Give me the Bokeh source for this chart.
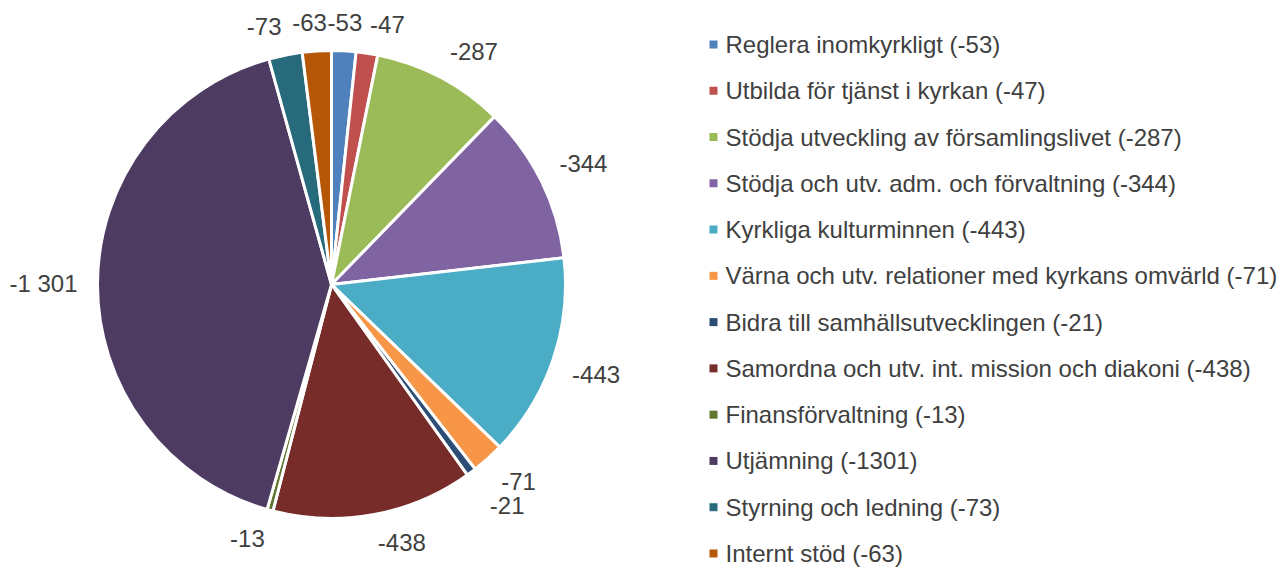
import numpy as np
from bokeh.plotting import figure
from bokeh.models import Range1d, ColumnDataSource
from bokeh.embed import file_html
from bokeh.resources import INLINE
from bokeh.core.properties import value

categories = [
    "Reglera inomkyrkligt",
    "Utbilda för tjänst i kyrkan",
    "Stödja utveckling av församlingslivet",
    "Stödja och utv. adm. och förvaltning",
    "Kyrkliga kulturminnen",
    "Värna och utv. relationer med kyrkans omvärld",
    "Bidra till samhällsutvecklingen",
    "Samordna och utv. int. mission och diakoni",
    "Finansförvaltning",
    "Utjämning",
    "Styrning och ledning",
    "Internt stöd",
]
values = [-53, -47, -287, -344, -443, -71, -21, -438, -13, -1301, -73, -63]
data_labels = ["-53", "-47", "-287", "-344", "-443", "-71", "-21", "-438", "-13", "-1 301", "-73", "-63"]
legend_labels = [f"{c} ({v})" for c, v in zip(categories, values)]
colors = ["#4F81BD", "#C0504D", "#9BBB59", "#8064A2", "#4BACC6", "#F79646",
          "#2C4D75", "#772C2A", "#5F7530", "#4D3B62", "#276A7C", "#B65708"]

W, H = 1281, 570
FONT = "Liberation Sans"
TXT = "#404040"
FS = 24

p = figure(width=W, height=H, output_backend="svg", toolbar_location=None,
           x_range=Range1d(0, W), y_range=Range1d(0, H), min_border=0)
p.axis.visible = False
p.grid.visible = False
p.outline_line_color = None

cx, cy, R = 331, 286, 234
mag = np.abs(np.array(values, dtype=float))
total = mag.sum()
cum_end = np.cumsum(mag)
cum_start = cum_end - mag
start = np.pi / 2 - 2 * np.pi * cum_start / total
end = np.pi / 2 - 2 * np.pi * cum_end / total

src = ColumnDataSource(dict(start=start, end=end, color=colors))
p.wedge(x=cx, y=cy, radius=R, start_angle="start", end_angle="end",
        direction="clock", fill_color="color", line_color="white",
        line_width=3, source=src)

# data labels: outside end, anchored by direction
theta = 2 * np.pi * (cum_start + mag / 2) / total  # clockwise from top
s, c = np.sin(theta), np.cos(theta)
aligns = ["left" if v > 0.15 else ("right" if v < -0.15 else "center") for v in s]
bases = ["bottom" if v > 0.25 else ("top" if v < -0.25 else "middle") for v in c]


def text_w(t):
    return sum(0.333 * FS if ch in "- " else 0.556 * FS for ch in t)


def box(x, y, t, a, b):
    w, h = text_w(t), 0.95 * FS
    x0 = x if a == "left" else (x - w if a == "right" else x - w / 2)
    y0 = y if b == "bottom" else (y - h if b == "top" else y - h / 2)
    return x0, y0, x0 + w, y0 + h


def overlap(i, j):
    b1 = box(lx[i], ly[i], data_labels[i], aligns[i], bases[i])
    b2 = box(lx[j], ly[j], data_labels[j], aligns[j], bases[j])
    return b1[0] < b2[2] and b2[0] < b1[2] and b1[1] < b2[3] and b2[1] < b1[3]


rl = np.full(len(values), R + 20.0)
lx = cx + rl * s
ly = cy + rl * c
n = len(values)
# collision avoidance, lower half: push outward radially
for i in range(1, n):
    if c[i] >= 0:
        continue
    for _ in range(40):
        if overlap(i - 1, i):
            rl[i] += 1
            lx[i] = cx + rl[i] * s[i]
            ly[i] = cy + rl[i] * c[i]
        else:
            break
# upper half, left of top: slide counter-clockwise neighbours left
for i in range(n - 1, 0, -1):
    j = (i + 1) % n
    if c[i] > 0 and s[i] < 0:
        for _ in range(40):
            if overlap(i, j):
                lx[i] -= 1
            else:
                break

lsrc = ColumnDataSource(dict(x=lx, y=ly, t=data_labels, a=aligns, b=bases))
p.text(x="x", y="y", text="t", text_align="a", text_baseline="b", source=lsrc,
       text_font=value(FONT), text_font_size=f"{FS}px", text_color=TXT)

# legend
row0, step = H - 44, 46.27
ry = row0 - step * np.arange(n)
p.scatter(x=np.full(n, 713), y=ry, marker="square", size=8, fill_color=colors,
          line_color=None)
p.text(x=np.full(n, 725), y=ry, text=legend_labels, text_align="left",
       text_baseline="middle", text_font=value(FONT), text_font_size=f"{FS}px",
       text_color=TXT)

open("out.html", "w").write(file_html(p, INLINE))
